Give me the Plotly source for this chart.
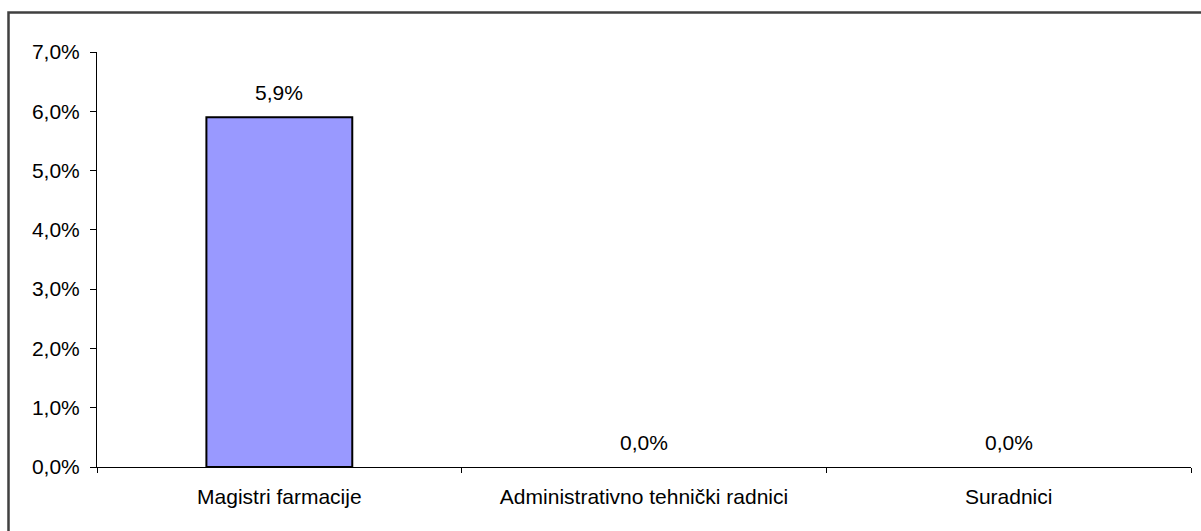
import plotly.graph_objects as go

categories = ["Magistri farmacije", "Administrativno tehnički radnici", "Suradnici"]
values = [0.059, 0.0, 0.0]
y_ticks = [0.0, 0.01, 0.02, 0.03, 0.04, 0.05, 0.06, 0.07]

W, H = 1201, 531
ml, mr, mt, mb = 97, 10, 52, 64
pw, ph = W - ml - mr, H - mt - mb
FS = 21

fig = go.Figure()
fig.add_trace(go.Bar(
    x=categories, y=values, width=0.4,
    marker=dict(color="#9999FF",
                line=dict(color="#000000", width=[2 if v > 0 else 0 for v in values])),
    hoverinfo="skip",
))

for c, v in zip(categories, values):
    fig.add_annotation(
        x=c, y=v, text=f"{v*100:.1f}%".replace(".", ","),
        showarrow=False, yanchor="bottom", yshift=11,
        font=dict(size=FS, color="#000000"),
    )

# outer chart border (top and left visible)
bx = (8.5 - ml) / pw
by = (H - mb - 12.5) / ph
by0 = (H - mb - H - 5) / ph
bx1 = (W + 5 - ml) / pw
fig.add_shape(type="path", xref="paper", yref="paper",
              path=f"M {bx} {by0} L {bx} {by} L {bx1} {by}",
              line=dict(color="#404040", width=2.5))

fig.update_layout(
    width=W, height=H,
    margin=dict(l=ml, r=mr, t=mt, b=mb),
    paper_bgcolor="white", plot_bgcolor="white",
    separators=",.",
    showlegend=False,
    font=dict(family="Liberation Sans, Arial, sans-serif", size=FS, color="#000000"),
)
fig.update_xaxes(
    type="category", showline=True, linecolor="#000000", linewidth=1,
    ticks="outside", ticklen=5, tickcolor="#000000", tickson="boundaries",
    showgrid=False, ticklabelstandoff=11, tickfont=dict(size=FS),
)
fig.update_yaxes(
    range=[0, 0.07], tickvals=y_ticks, tickformat=".1%",
    showline=True, linecolor="#000000", linewidth=1,
    ticks="outside", ticklen=6, tickcolor="#000000",
    showgrid=False, zeroline=False, ticklabelstandoff=6, tickfont=dict(size=FS),
)

fig.write_html("out.html", config={"displayModeBar": False},
               post_script="document.body.style.margin='0';")
